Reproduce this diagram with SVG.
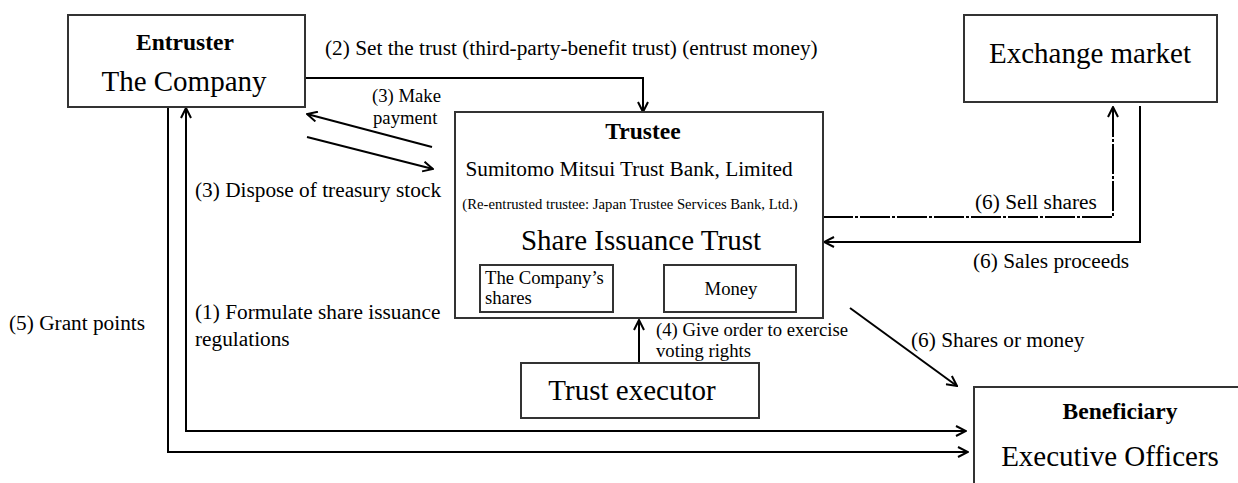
<svg xmlns="http://www.w3.org/2000/svg" width="1238" height="483" viewBox="0 0 1238 483">
<defs>
<marker id="ah" viewBox="0 0 12 12" refX="11" refY="6" markerWidth="12" markerHeight="12" markerUnits="userSpaceOnUse" orient="auto-start-reverse">
<path d="M1,1 L11,6 L1,11" fill="none" stroke="#000" stroke-width="2"/>
</marker>
</defs>
<style>
text{font-family:"Liberation Serif","Times New Roman",serif;fill:#000}
.box{fill:#fff;stroke:#333;stroke-width:2}
.big{font-size:29px}
.bold{font-size:23.5px;font-weight:bold}
.lbl{font-size:21.3px}
.sm{font-size:18.7px}
.xs{font-size:14.7px}
.ln{fill:none;stroke:#000;stroke-width:2}
</style>
<rect width="1238" height="483" fill="#fff"/>
<g id="connectors">
<polyline class="ln" points="305,78 643,78 643,112" marker-end="url(#ah)"/>
<line class="ln" x1="432" y1="147" x2="307" y2="114" marker-end="url(#ah)"/>
<line class="ln" x1="307" y1="137" x2="433" y2="169" marker-end="url(#ah)"/>
<polyline class="ln" points="823,217 1113,217 1113,107" stroke-dasharray="30 2 3 2" marker-end="url(#ah)"/>
<polyline class="ln" points="1140,106 1140,242 824,242" stroke-width="2.5" marker-end="url(#ah)"/>
<line class="ln" x1="639" y1="363" x2="639" y2="320" stroke-width="2.5" marker-end="url(#ah)"/>
<line class="ln" x1="850" y1="308" x2="957" y2="386" marker-end="url(#ah)"/>
<polyline class="ln" points="168,107 168,452 968,452" stroke-width="3" marker-end="url(#ah)"/>
<polyline class="ln" points="186,108 186,431 966,431" marker-start="url(#ah)" marker-end="url(#ah)"/>
<text class="lbl" x="325" y="55">(2) Set the trust (third-party-benefit trust) (entrust money)</text>
<text class="sm" x="372" y="102">(3) Make</text>
<text class="sm" x="373" y="124">payment</text>
<text class="lbl" x="195" y="197">(3) Dispose of treasury stock</text>
<text class="lbl" x="195" y="319">(1) Formulate share issuance</text>
<text class="lbl" x="195" y="346">regulations</text>
<text class="lbl" x="9" y="330">(5) Grant points</text>
<text class="sm" x="656" y="336">(4) Give order to exercise</text>
<text class="sm" x="656" y="357">voting rights</text>
<text class="lbl" x="975" y="209">(6) Sell shares</text>
<text class="lbl" x="973" y="268">(6) Sales proceeds</text>
<text class="lbl" x="911" y="347">(6) Shares or money</text>
</g>
<g id="company">
<rect class="box" x="68" y="15" width="237" height="92"/>
<text class="bold" x="185" y="50" text-anchor="middle">Entruster</text>
<text class="big" x="184" y="91" text-anchor="middle">The Company</text>
</g>
<g id="exchange">
<rect class="box" x="964" y="15" width="253" height="87"/>
<text class="big" x="1090" y="63" text-anchor="middle">Exchange market</text>
</g>
<g id="trustee">
<rect class="box" x="455" y="112" width="368" height="206" stroke-width="2.5"/>
<text class="bold" x="643" y="139" text-anchor="middle">Trustee</text>
<text class="lbl" x="629" y="176" text-anchor="middle">Sumitomo Mitsui Trust Bank, Limited</text>
<text class="xs" x="630" y="209" text-anchor="middle">(Re-entrusted trustee: Japan Trustee Services Bank, Ltd.)</text>
<text class="big" x="641" y="250" text-anchor="middle">Share Issuance Trust</text>
<g id="shares">
<rect class="box" x="480" y="265" width="133" height="47"/>
<text class="sm" x="485" y="284">The Company’s</text>
<text class="sm" x="485" y="304">shares</text>
</g>
<g id="money">
<rect class="box" x="664" y="265" width="132" height="47" stroke-width="2.5"/>
<text class="sm" x="731" y="295" text-anchor="middle">Money</text>
</g>
</g>
<g id="executor">
<rect class="box" x="521" y="363" width="238" height="55"/>
<text class="big" x="632" y="400" text-anchor="middle">Trust executor</text>
</g>
<g id="beneficiary">
<rect class="box" x="974" y="387" width="300" height="150"/>
<text class="bold" x="1120" y="419" text-anchor="middle">Beneficiary</text>
<text class="big" x="1110" y="466" text-anchor="middle">Executive Officers</text>
</g>
</svg>
